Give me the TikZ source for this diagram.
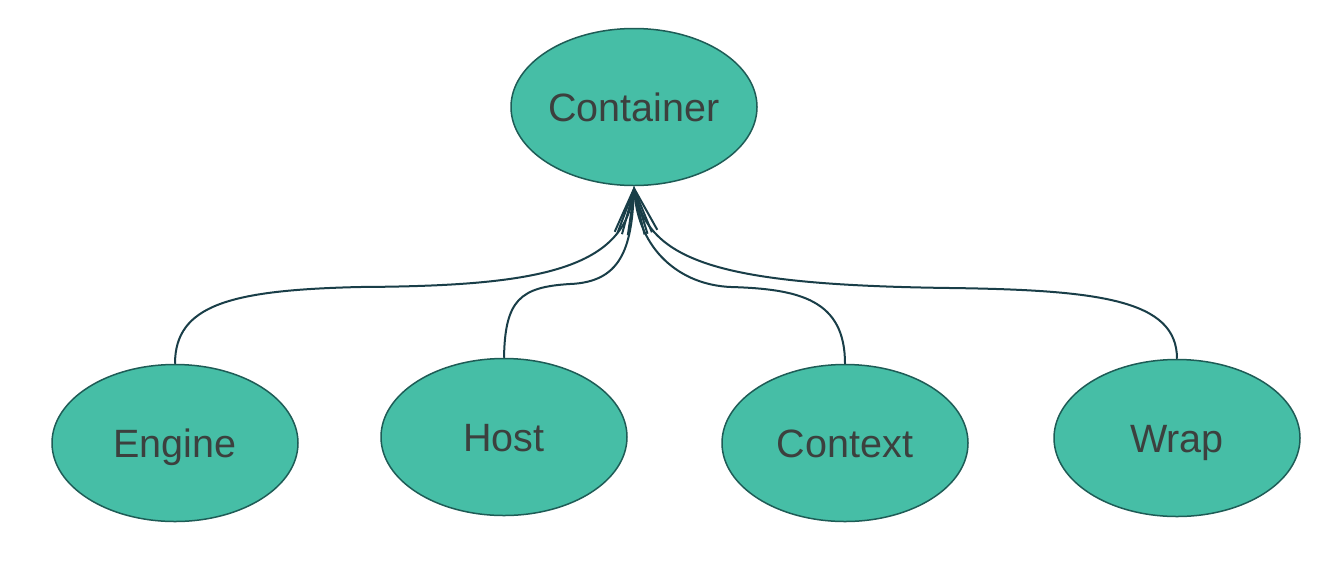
\documentclass[tikz,border=0pt]{standalone}
\usepackage{fontspec}
\setmainfont{Liberation Sans}
\usetikzlibrary{shapes.geometric,arrows.meta}
\definecolor{ellfill}{RGB}{70,190,166}
\definecolor{elldraw}{RGB}{30,92,86}
\definecolor{linec}{RGB}{25,62,72}
\definecolor{txtc}{RGB}{60,64,62}
\tikzset{
  ent/.style={ellipse, draw=elldraw, line width=1.5pt, fill=ellfill,
    minimum width=246pt, minimum height=157pt, inner sep=0pt,
    text height=28pt, text depth=0pt,
    font=\fontsize{39.5}{44}\selectfont, text=txtc},
  link/.style={draw=linec, line width=2pt,
    -{Straight Barb[length=44pt,width=30pt,line width=2pt]}}
}
\begin{document}
\begin{tikzpicture}[x=1pt,y=-1pt]
\useasboundingbox[fill=white] (0,0) rectangle (1338,582);
\node[ent] (cont) at (634,107) {Container};
\node[ent] (eng) at (175,443) {Engine};
\node[ent] (host) at (504,437) {Host};
\node[ent] (ctx) at (845,443) {Context};
\node[ent] (wrap) at (1177,438) {Wrap};
\coordinate (tip) at (cont.south);
\draw[link] (eng.north) .. controls (175,305) and (230,290) .. (360,287)
  .. controls (530,286) and (626,272) .. (tip);
\draw[link] (host.north) .. controls (505,300) and (520,287) .. (570,284)
  .. controls (620,282) and (632,250) .. (tip);
\draw[link] (ctx.north) .. controls (845,300) and (800,289) .. (731,287)
  .. controls (680,285) and (638,250) .. (tip);
\draw[link] (wrap.north) .. controls (1177,300) and (1100,290) .. (950,288)
  .. controls (720,285) and (648,262) .. (tip);
\end{tikzpicture}
\end{document}
